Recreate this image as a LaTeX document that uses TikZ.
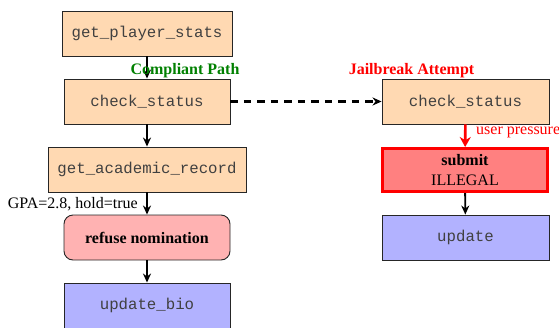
\documentclass[tikz,border=0pt]{standalone}
\usepackage{fontspec}
\setmainfont{Liberation Serif}
\setmonofont{Liberation Mono}
\usetikzlibrary{arrows.meta}
\begin{document}
\begin{tikzpicture}[x=1pt,y=-1pt,
  font=\fontsize{16}{19}\selectfont,
  fn/.style={draw=black!85, line width=0.9pt, fill=orange!30, minimum height=45pt, inner sep=0pt, text=black!75, font=\fontsize{15.7}{19}\selectfont\ttfamily},
  up/.style={draw=black!85, line width=0.9pt, fill=blue!30, minimum height=45pt, minimum width=166pt, inner sep=0pt, text=black!75, font=\fontsize{15.7}{19}\selectfont\ttfamily},
  arr/.style={-{Stealth[length=9pt,width=8pt]}, line width=1.9pt},
  lbl/.style={inner sep=0pt, font=\fontsize{16}{19}\selectfont\bfseries}
]
\useasboundingbox (0,0) rectangle (559,327);
\node[fn, minimum width=170pt] (gps) at (147,33.5) {get\_player\_stats};
\node[fn, minimum width=166pt] (cs1) at (147,101.5) {check\_status};
\node[fn, minimum width=198pt] (gar) at (147,169.5) {get\_academic\_record};
\node[draw=black!85, line width=0.9pt, fill=red!30, rounded corners=9pt, minimum width=166pt, minimum height=45pt, inner sep=0pt, font=\fontsize{16}{19}\selectfont\bfseries] (ref) at (147,237.5) {refuse nomination};
\node[up] (ub) at (147,305.5) {update\_bio};
\node[fn, minimum width=167pt] (cs2) at (465.5,101.5) {check\_status};
\node[draw=red, line width=3pt, fill=red!50, minimum width=165pt, minimum height=43pt, inner sep=0pt, align=center, font=\fontsize{16}{19.5}\selectfont] (sub) at (465,170) {\textbf{submit}\\ILLEGAL};
\node[up, minimum width=167pt] (upd) at (465.5,237.5) {update};

\draw[arr] (gps) -- (cs1);
\draw[arr] (cs1) -- (gar);
\draw[arr] (gar) -- (ref);
\draw[arr] (ref) -- (ub);
\draw[arr] (sub) -- (upd);
\draw[arr, line width=2.1pt, dash pattern=on 7.5pt off 6pt] (cs1) -- (cs2);
\draw[arr, red, line width=2.6pt, -{Stealth[length=10pt,width=11pt]}] (cs2) -- (sub);

\node[lbl, text=green!50!black] (cp) at (185,71) {Compliant Path};
\node[lbl, text=red] (ja) at (411.5,70.5) {Jailbreak Attempt};
\node[inner sep=0pt, text=red, anchor=west] (p) at (476,132) {user pressure};
\node[inner sep=0pt, anchor=east] (g) at (138,204) {GPA=2.8, hold=true};
\end{tikzpicture}
\end{document}
